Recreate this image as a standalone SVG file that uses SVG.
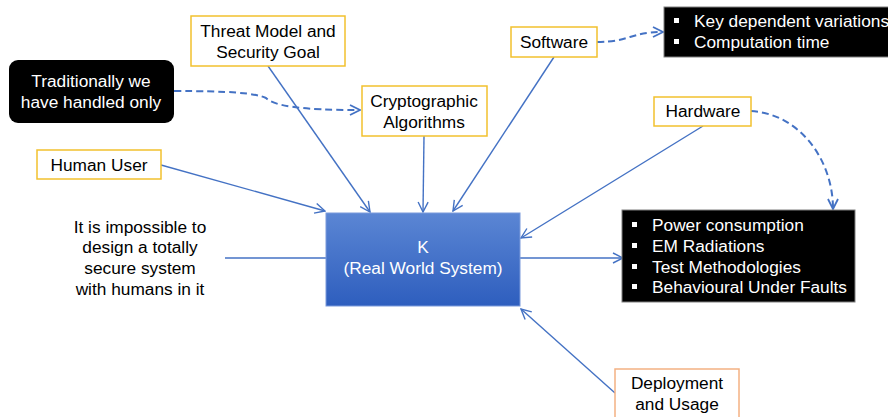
<svg xmlns="http://www.w3.org/2000/svg" width="888" height="417" viewBox="0 0 888 417">
  <defs>
    <linearGradient id="kFill" x1="0" y1="0" x2="0" y2="1">
      <stop offset="0" stop-color="#5B86D4"/>
      <stop offset="1" stop-color="#2E5EBE"/>
    </linearGradient>
    <marker id="arrow" viewBox="0 0 12 12" refX="11" refY="6" markerWidth="12" markerHeight="12" markerUnits="userSpaceOnUse" orient="auto">
      <path d="M1,1 L11,6 L1,11" fill="none" stroke="#4472C4" stroke-width="1.4"/>
    </marker>
    <marker id="arrowDash" viewBox="0 0 12 12" refX="11" refY="6" markerWidth="12" markerHeight="12" markerUnits="userSpaceOnUse" orient="auto">
      <path d="M1,1 L11,6 L1,11" fill="none" stroke="#4472C4" stroke-width="1.8"/>
    </marker>
  </defs>
  <style>
    text { font-family: "Liberation Sans", Arial, sans-serif; font-size: 17.3px; fill: #000; }
    .c { text-anchor: middle; }
    .w { fill: #fff; }
    .box { fill: #fff; stroke: #F2C12E; stroke-width: 1.5; }
    .box2 { fill: #fff; stroke: #F4B183; stroke-width: 1.5; }
    .dark { fill: #000; stroke: #7F7F7F; stroke-width: 1; }
    .line { fill: none; stroke: #4472C4; stroke-width: 1.4; }
    .dash { fill: none; stroke: #4472C4; stroke-width: 2; stroke-dasharray: 7 4; }
    .bul { fill: #fff; }
  </style>

  <rect width="888" height="417" fill="#fff"/>

  <g id="connectors">
    <line class="line" x1="268" y1="66" x2="370" y2="212" marker-end="url(#arrow)"/>
    <line class="line" x1="424" y1="136" x2="423" y2="212" marker-end="url(#arrow)"/>
    <line class="line" x1="554" y1="57" x2="453" y2="211" marker-end="url(#arrow)"/>
    <line class="line" x1="703" y1="126" x2="521" y2="238" marker-end="url(#arrow)"/>
    <line class="line" x1="161" y1="165" x2="325" y2="211" marker-end="url(#arrow)"/>
    <line class="line" x1="225" y1="258" x2="326" y2="258"/>
    <line class="line" x1="520" y1="258" x2="623" y2="258" marker-end="url(#arrow)"/>
    <line class="line" x1="615" y1="393" x2="521" y2="309" marker-end="url(#arrow)"/>
    <path class="dash" d="M174,91 C230,91 255,93 266,98 C274,106 300,110 360,110" marker-end="url(#arrowDash)"/>
    <path class="dash" d="M597,42 C630,42 630,32 663,32" marker-end="url(#arrowDash)"/>
    <path class="dash" d="M751,111 C800,114 833,160 833,209" marker-end="url(#arrowDash)"/>
  </g>

  <g id="threat-model">
    <rect class="box" x="191" y="16" width="154" height="50"/>
    <text class="c" x="268" y="37">Threat Model and</text>
    <text class="c" x="268" y="58">Security Goal</text>
  </g>

  <g id="traditionally">
    <rect x="9" y="60" width="165" height="63" rx="9" ry="9" fill="#000"/>
    <text class="c w" x="91" y="87">Traditionally we</text>
    <text class="c w" x="91" y="108">have handled only</text>
  </g>

  <g id="cryptographic-algorithms">
    <rect class="box" x="362" y="86" width="125" height="50"/>
    <text class="c" x="424" y="107">Cryptographic</text>
    <text class="c" x="424" y="128">Algorithms</text>
  </g>

  <g id="human-user">
    <rect class="box" x="37" y="150" width="124" height="29"/>
    <text class="c" x="99" y="171">Human User</text>
  </g>

  <g id="impossible-note">
    <text class="c" x="140" y="233">It is impossible to</text>
    <text class="c" x="140" y="253">design a totally</text>
    <text class="c" x="140" y="274">secure system</text>
    <text class="c" x="140" y="295">with humans in it</text>
  </g>

  <g id="real-world-system">
    <rect x="326" y="213" width="194" height="93" fill="url(#kFill)" stroke="#7A9ADB" stroke-width="1"/>
    <text class="c w" x="423" y="253">K</text>
    <text class="c w" x="423" y="274">(Real World System)</text>
  </g>

  <g id="software">
    <rect class="box" x="511" y="27" width="86" height="30"/>
    <text class="c" x="554" y="48">Software</text>
  </g>

  <g id="software-effects">
    <rect class="dark" x="664" y="7" width="230" height="50"/>
    <rect class="bul" x="674" y="18" width="5" height="5"/>
    <rect class="bul" x="674" y="39" width="5" height="5"/>
    <text class="w" x="694" y="27">Key dependent variations</text>
    <text class="w" x="694" y="48">Computation time</text>
  </g>

  <g id="hardware">
    <rect class="box" x="654" y="97" width="97" height="29"/>
    <text class="c" x="703" y="117">Hardware</text>
  </g>

  <g id="hardware-effects">
    <rect class="dark" x="622" y="210" width="233" height="92"/>
    <rect class="bul" x="632" y="222" width="5" height="5"/>
    <rect class="bul" x="632" y="243" width="5" height="5"/>
    <rect class="bul" x="632" y="264" width="5" height="5"/>
    <rect class="bul" x="632" y="284" width="5" height="5"/>
    <text class="w" x="652" y="231">Power consumption</text>
    <text class="w" x="652" y="252">EM Radiations</text>
    <text class="w" x="652" y="273">Test Methodologies</text>
    <text class="w" x="652" y="293">Behavioural Under Faults</text>
  </g>

  <g id="deployment-usage">
    <rect class="box2" x="615" y="369" width="124" height="60"/>
    <text class="c" x="677" y="389">Deployment</text>
    <text class="c" x="677" y="410">and Usage</text>
  </g>
</svg>
